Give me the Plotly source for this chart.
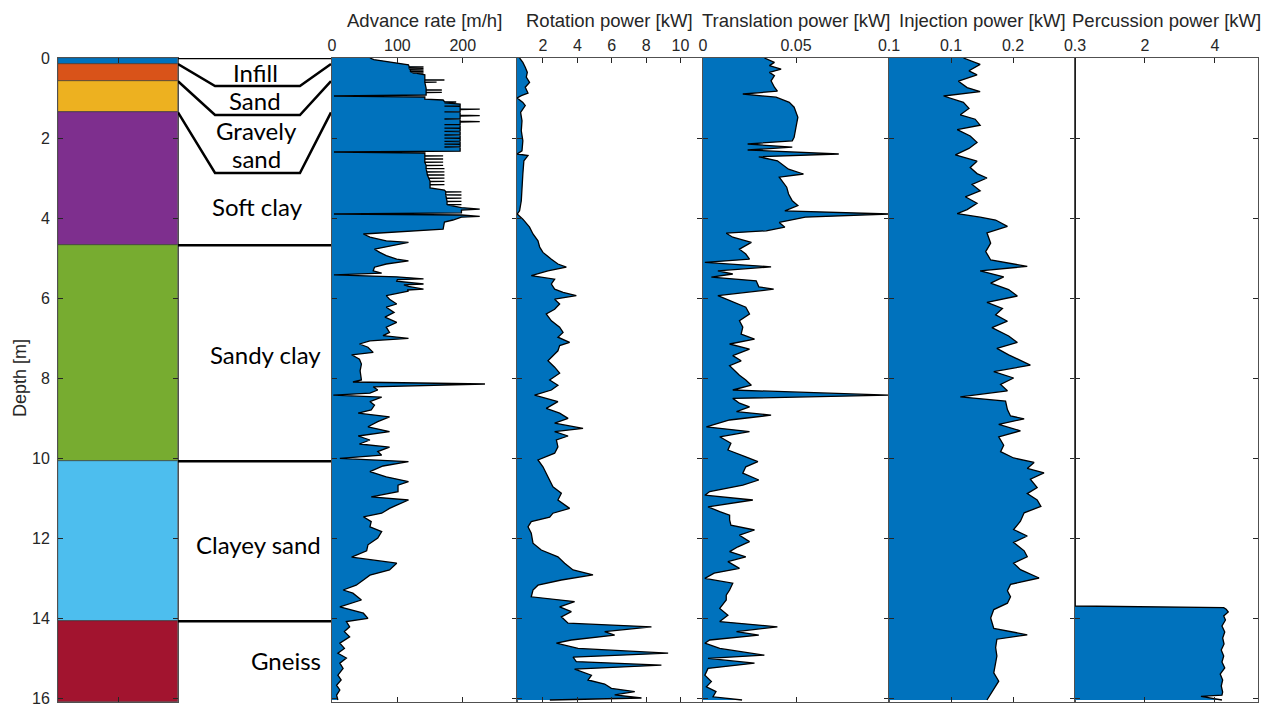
import plotly.graph_objects as go

# page is 1274x704; the HTML body has an 8px default margin, so the figure is drawn 8px smaller
PAGE_W, PAGE_H = 1274, 704
OFF = 8
W, H = PAGE_W - OFF, PAGE_H - OFF

# ---------------- data ----------------
litho_names = ["Infill", "Sand", "Gravely sand", "Soft clay", "Sandy clay", "Clayey sand", "Gneiss"]
litho_top = [0.0, 0.15, 0.58, 1.36, 4.68, 10.08, 14.08]
litho_bottom = [0.15, 0.58, 1.36, 4.68, 10.08, 14.08, 16.1]
litho_colors = ["#0072BD", "#D95319", "#EDB120", "#7E2F8E", "#77AC30", "#4DBEEE", "#A2142F"]

adv_depth = [0.00, 0.04, 0.17, 0.20, 0.215, 0.22, 0.225, 0.255, 0.26, 0.265, 0.295, 0.30, 0.305, 0.335, 0.34, 0.345,
             0.375, 0.38, 0.385, 0.42, 0.52, 0.545, 0.55, 0.555, 0.60, 0.605, 0.61, 0.76, 0.795, 0.80, 0.805, 0.855,
             0.86, 0.865, 0.925, 0.95, 0.975, 1.03, 1.05, 1.09, 1.10, 1.12, 1.15,
             1.20, 1.205, 1.21, 1.27, 1.28, 1.29, 1.34, 1.345, 1.35, 1.43, 1.44, 1.45, 1.52, 1.525, 1.53, 1.58, 1.59,
             1.60, 1.66, 1.665, 1.67, 1.75, 1.755, 1.76, 1.83, 1.835, 1.84, 1.92, 1.925, 1.93, 2.00, 2.005, 2.01,
             2.08, 2.085, 2.09, 2.15, 2.155, 2.16, 2.22, 2.225, 2.23, 2.30, 2.33, 2.35, 2.375,
             2.44, 2.445, 2.45, 2.52, 2.525, 2.53, 2.60, 2.605, 2.61, 2.68, 2.685, 2.69, 2.76, 2.765, 2.77, 2.84,
             2.845, 2.85, 2.92, 2.925, 2.93, 3.00, 3.005, 3.01, 3.08, 3.085, 3.09, 3.16, 3.165, 3.17, 3.25, 3.30,
             3.34, 3.345, 3.35, 3.42, 3.425, 3.43, 3.50, 3.505, 3.51, 3.58, 3.585, 3.59, 3.66, 3.665, 3.67, 3.74,
             3.78, 3.80, 3.87, 3.90, 3.925, 3.96, 3.98, 4.05, 4.10, 4.28, 4.33, 4.40, 4.48, 4.57, 4.61, 4.67, 4.78,
             4.86, 4.94, 5.03, 5.07, 5.15, 5.23, 5.32, 5.38, 5.42, 5.47, 5.52, 5.54, 5.58, 5.65, 5.67, 5.71, 5.78,
             5.80, 5.83, 5.88, 5.94, 6.03, 6.15, 6.23, 6.36, 6.48, 6.61, 6.73, 6.86, 6.94, 7.01, 7.07, 7.15, 7.23,
             7.36, 7.42, 7.53, 7.65, 7.82, 8.05, 8.10, 8.15, 8.22, 8.30, 8.38, 8.43, 8.48, 8.59, 8.68, 8.80, 8.88,
             8.97, 9.09, 9.22, 9.34, 9.45, 9.55, 9.65, 9.73, 9.84, 9.93, 10.01, 10.09, 10.20, 10.34, 10.47, 10.59,
             10.68, 10.84, 10.97, 11.05, 11.18, 11.26, 11.38, 11.47, 11.59, 11.72, 11.84, 12.00, 12.17, 12.32, 12.48,
             12.63, 12.80, 12.93, 13.05, 13.18, 13.30, 13.38, 13.55, 13.72, 13.88, 14.01, 14.09, 14.22, 14.34, 14.47,
             14.63, 14.76, 14.88, 15.00, 15.13, 15.26, 15.43, 15.55, 15.68, 15.80, 15.93, 16.05]
adv_rate = [58, 64, 117, 118, 118, 140, 118, 118, 140, 118, 120, 140, 120, 120, 140, 120,
            125, 140, 130, 142, 142, 142, 172, 142, 142, 160, 142, 144, 144, 168, 144, 144,
            168, 144, 144, 3, 142, 142, 170, 172, 190, 172, 196,
            196, 172, 196, 196, 226, 196, 196, 172, 196, 196, 226, 196, 196, 172, 196, 196, 226,
            196, 196, 172, 196, 196, 172, 196, 196, 172, 196, 196, 172, 196, 196, 172, 196,
            196, 172, 196, 196, 172, 196, 196, 172, 196, 196, 196, 3, 142,
            142, 170, 142, 142, 170, 142, 142, 170, 142, 144, 170, 144, 144, 172, 144, 145,
            172, 145, 146, 172, 146, 148, 172, 148, 150, 172, 150, 150, 172, 150, 150, 172,
            174, 198, 174, 174, 198, 174, 175, 198, 175, 176, 198, 176, 176, 198, 176, 198,
            226, 198, 198, 3, 198, 226, 198, 185, 172, 170, 110, 48, 58, 83, 117, 99, 65,
            73, 83, 99, 117, 83, 65, 63, 76, 3, 99, 140, 100, 99, 140, 110, 117, 140,
            115, 117, 99, 83, 88, 99, 83, 95, 81, 99, 83, 88, 78, 117, 58, 42, 55,
            63, 30, 42, 45, 43, 45, 32, 234, 63, 70, 58, 2, 76, 58, 65, 60, 40,
            88, 70, 55, 88, 40, 58, 42, 88, 70, 76, 12, 117, 78, 58, 83, 117,
            101, 101, 60, 117, 99, 88, 76, 48, 60, 58, 76, 70, 55, 53, 30,
            99, 88, 58, 48, 37, 17, 32, 45, 12, 48, 55, 22, 27, 19, 27,
            12, 19, 9, 22, 12, 17, 9, 14, 7, 12, 7, 9]

rot_depth = [0.00, 0.11, 0.23, 0.36, 0.48, 0.61, 0.73, 0.88, 0.94, 1.00, 1.11, 1.19, 1.36, 1.57, 1.82, 2.07, 2.32,
             2.40, 2.44, 2.57, 2.90, 3.23, 3.57, 3.82, 3.90, 4.03, 4.23, 4.40, 4.57, 4.73, 4.86, 5.03, 5.15, 5.23,
             5.32, 5.44, 5.53, 5.65, 5.78, 5.86, 5.94, 6.03, 6.15, 6.28, 6.40, 6.57, 6.73, 6.86, 6.98, 7.11, 7.19,
             7.32, 7.44, 7.57, 7.73, 7.88, 8.05, 8.18, 8.30, 8.43, 8.59, 8.76, 8.88, 9.01, 9.13, 9.26, 9.34, 9.45,
             9.55, 9.72, 9.88, 10.05, 10.22, 10.38, 10.55, 10.72, 10.88, 11.05, 11.26, 11.38, 11.48, 11.59, 11.72,
             11.88, 12.13, 12.30, 12.47, 12.63, 12.80, 12.92, 13.05, 13.18, 13.30, 13.47, 13.59, 13.72, 13.84, 13.97,
             14.13, 14.22, 14.34, 14.43, 14.55, 14.63, 14.76, 14.88, 14.98, 15.09, 15.18, 15.28, 15.43, 15.55, 15.65,
             15.76, 15.84, 15.92, 16.00, 16.05]
rot_power = [0.64, 0.83, 0.97, 1.09, 1.03, 1.22, 0.97, 1.13, 0.74, 0.50, 0.83, 0.97, 0.70, 0.78, 0.74, 0.83, 0.78,
             0.50, 1.13, 0.89, 0.83, 0.78, 0.74, 0.64, 0.50, 0.83, 1.22, 1.42, 1.71, 1.81, 2.00, 2.49, 2.87, 3.36,
             2.29, 1.32, 2.68, 2.49, 2.68, 3.17, 3.94, 2.68, 2.97, 2.68, 2.19, 2.49, 2.97, 3.17, 2.87, 3.55, 2.97,
             2.87, 2.58, 2.29, 2.68, 2.97, 2.39, 2.87, 2.49, 1.51, 2.87, 2.19, 2.97, 3.46, 2.68, 4.33, 2.68, 3.46,
             2.78, 2.87, 2.68, 1.71, 2.00, 2.19, 2.39, 2.58, 3.07, 2.87, 3.55, 2.58, 2.39, 1.32, 1.13,
             1.32, 1.42, 1.90, 2.87, 3.26, 3.75, 4.91, 3.07, 1.71, 1.42, 1.32, 3.84, 2.97, 3.65, 3.07,
             3.46, 8.31, 5.59, 6.17, 3.65, 2.78, 4.04, 9.28, 3.75, 3.94, 8.89, 3.84, 4.82, 4.62, 5.59,
             5.98, 7.34, 6.17, 7.73, 2.40]

tra_depth = [0.00, 0.11, 0.19, 0.28, 0.36, 0.44, 0.57, 0.73, 0.83, 0.90, 0.98, 1.11, 1.23, 1.48, 1.73, 1.98, 2.07,
             2.15, 2.23, 2.30, 2.40, 2.47, 2.57, 2.78, 2.90, 2.98, 3.23, 3.40, 3.57, 3.69, 3.82, 3.90, 3.98, 4.11,
             4.23, 4.32, 4.38, 4.48, 4.61, 4.78, 4.90, 5.03, 5.11, 5.22, 5.32, 5.40, 5.48, 5.57, 5.72, 5.78, 5.94,
             6.07, 6.23, 6.40, 6.57, 6.73, 6.90, 7.03, 7.15, 7.28, 7.44, 7.57, 7.69, 7.93, 8.05, 8.18, 8.30, 8.43,
             8.51, 8.63, 8.72, 8.84, 8.93, 9.05, 9.22, 9.34, 9.47, 9.63, 9.80, 9.97, 10.09, 10.22, 10.38, 10.55,
             10.68, 10.84, 10.93, 11.05, 11.22, 11.34, 11.43, 11.55, 11.68, 11.80, 11.93, 12.09, 12.22, 12.34, 12.47,
             12.59, 12.76, 12.88, 13.01, 13.13, 13.30, 13.43, 13.55, 13.76, 13.93, 14.09, 14.22, 14.34, 14.43, 14.55,
             14.63, 14.76, 14.93, 15.01, 15.13, 15.26, 15.43, 15.59, 15.72, 15.84, 15.97, 16.05]
tra_power = [0.033, 0.0384, 0.0357, 0.042, 0.0357, 0.0384, 0.0366, 0.0384, 0.040, 0.0214, 0.0393, 0.0464, 0.049,
             0.051, 0.050, 0.049, 0.048, 0.024, 0.048, 0.024, 0.073, 0.030, 0.040, 0.046, 0.054, 0.041, 0.045,
             0.046, 0.048, 0.051, 0.044, 0.100, 0.055, 0.041, 0.044, 0.034, 0.0125, 0.016, 0.026, 0.0196, 0.023,
             0.025, 0.001, 0.0366, 0.008, 0.016, 0.0045, 0.0286, 0.030, 0.038, 0.008, 0.0143, 0.023, 0.025, 0.0196,
             0.0214, 0.0205, 0.0277, 0.0143, 0.025, 0.016, 0.0205, 0.0143, 0.0196, 0.023, 0.026, 0.016, 0.100,
             0.016, 0.0196, 0.025, 0.018, 0.0366, 0.0143, 0.0018, 0.025, 0.009, 0.015, 0.0134, 0.023, 0.0295, 0.023,
             0.0214, 0.030, 0.0214, 0.0036, 0.001, 0.0268, 0.0027, 0.009, 0.0143, 0.0143, 0.015, 0.0277, 0.0196,
             0.025, 0.0188, 0.0143, 0.023, 0.0134, 0.0196, 0.006, 0.001, 0.016, 0.0143, 0.0125, 0.0125, 0.009,
             0.0134, 0.009, 0.040, 0.018, 0.030, 0.0036, 0.001, 0.009, 0.033, 0.0027, 0.0277, 0.0027, 0.001,
             0.0045, 0.0018, 0.007, 0.0054, 0.021]

inj_depth = [0.00, 0.16, 0.32, 0.42, 0.58, 0.74, 0.84, 0.95, 1.11, 1.26, 1.42, 1.53, 1.68, 1.79, 1.95, 2.11, 2.26,
             2.42, 2.58, 2.74, 2.89, 3.00, 3.16, 3.32, 3.47, 3.63, 3.79, 3.89, 3.98, 4.05, 4.21, 4.37, 4.63, 4.84,
             5.05, 5.21, 5.32, 5.47, 5.63, 5.79, 5.95, 6.11, 6.26, 6.42, 6.58, 6.74, 6.95, 7.11, 7.26, 7.42, 7.68,
             7.84, 8.00, 8.16, 8.32, 8.47, 8.58, 8.79, 8.95, 9.02, 9.16, 9.32, 9.47, 9.68, 9.84, 10.00, 10.11, 10.26,
             10.37, 10.53, 10.74, 10.89, 11.05, 11.21, 11.37, 11.58, 11.79, 11.95, 12.11, 12.32, 12.47, 12.63, 12.79,
             13.00, 13.16, 13.32, 13.47, 13.63, 13.79, 14.00, 14.26, 14.42, 14.53, 14.74, 14.95, 15.16, 15.37, 15.58,
             15.79, 16.05]
inj_power = [0.120, 0.147, 0.129, 0.142, 0.112, 0.126, 0.147, 0.088, 0.120, 0.129, 0.115, 0.139, 0.147, 0.110,
             0.131, 0.142, 0.129, 0.107, 0.142, 0.131, 0.142, 0.158, 0.134, 0.147, 0.123, 0.142, 0.126, 0.110,
             0.147, 0.172, 0.191, 0.158, 0.164, 0.156, 0.164, 0.223, 0.147, 0.185, 0.164, 0.193, 0.207, 0.158,
             0.183, 0.172, 0.191, 0.166, 0.193, 0.207, 0.174, 0.193, 0.228, 0.169, 0.201, 0.180, 0.191, 0.115,
             0.188, 0.191, 0.196, 0.218, 0.177, 0.212, 0.177, 0.185, 0.180, 0.201, 0.234, 0.223, 0.250, 0.228,
             0.239, 0.223, 0.239, 0.245, 0.218, 0.212, 0.201, 0.223, 0.201, 0.218, 0.223, 0.201, 0.212, 0.242,
             0.196, 0.191, 0.196, 0.191, 0.169, 0.164, 0.169, 0.223, 0.174, 0.172, 0.174, 0.172, 0.169, 0.177,
             0.169, 0.158]

per_depth = [0.00, 13.70, 13.74, 13.78, 13.85, 13.95, 14.05, 14.20, 14.35, 14.50, 14.65, 14.80, 14.95, 15.10, 15.25,
             15.40, 15.55, 15.70, 15.85, 15.93, 15.96, 16.05]
per_power = [0.0, 0.0, 4.25, 4.32, 4.38, 4.25, 4.30, 4.20, 4.28, 4.22, 4.26, 4.18, 4.25, 4.20, 4.28, 4.15, 4.22,
             4.18, 4.22, 4.20, 3.60, 4.20]

titles = ["Advance rate [m/h]", "Rotation power [kW]", "Translation power [kW]",
          "Injection power [kW]", "Percussion power [kW]"]

# ---------------- layout geometry (page pixels) ----------------
DEPTH_RANGE = [16.1, 0]
Y_TOP, Y_BOT = 58, 702
LITHO = (58, 178)
LABEL = (178, 331)
PANELS = [(332, 517), (517, 702), (703, 889), (889, 1075), (1075, 1258)]
RANGES = [[0, 283], [0.49, 11.25], [0, 0.1], [0, 0.3], [0, 5.23]]
TICKS = [[0, 100, 200], [2, 4, 6, 8, 10], [0, 0.05, 0.1], [0.1, 0.2, 0.3], [2, 4]]
TICKTEXT = [["0", "100", "200"], ["2", "4", "6", "8", "10"], ["0", "0.05", "0.1"],
            ["0.1", "0.2", "0.3"], ["2", "4"]]

def px(x):
    return (x - OFF) / W

def py(y):
    return 1 - (y - OFF) / H

def dom(p):
    return [px(p[0]), px(p[1])]

ydom = [py(Y_BOT), py(Y_TOP)]
AX = "#262626"
FONT = "Liberation Sans, Arial, sans-serif"

fig = go.Figure()

# lithology column
fig.add_trace(go.Bar(
    x=[0.5] * len(litho_top),
    y=[b - t for t, b in zip(litho_top, litho_bottom)],
    base=litho_top, width=1,
    marker=dict(color=litho_colors, line=dict(color="#333333", width=0.6)),
    xaxis="x", yaxis="y", showlegend=False, hoverinfo="skip"))

# label column connectors
conn_x = [0, 0.242, 0.797, 1]
box_bottom = [0.70, 1.425, 2.875]
for top_d, bb in zip(litho_bottom[:3], box_bottom):
    fig.add_trace(go.Scatter(x=conn_x, y=[top_d, bb, bb, top_d], mode="lines",
                             line=dict(color="black", width=2.5),
                             xaxis="x2", yaxis="y2", showlegend=False, hoverinfo="skip"))
for d in [0.0] + litho_bottom[3:6]:
    fig.add_trace(go.Scatter(x=[0, 1], y=[d, d], mode="lines",
                             line=dict(color="black", width=2.5),
                             xaxis="x2", yaxis="y2", showlegend=False, hoverinfo="skip"))

series = [(adv_rate, adv_depth), (rot_power, rot_depth), (tra_power, tra_depth),
          (inj_power, inj_depth), (per_power, per_depth)]
for i, (vals, deps) in enumerate(series):
    n = i + 3
    fig.add_trace(go.Scatter(x=vals, y=deps, mode="lines", fill="tozerox",
                             fillcolor="#0072BD", line=dict(color="black", width=1.3),
                             xaxis=f"x{n}", yaxis=f"y{n}", showlegend=False, hoverinfo="skip"))

layout = dict(width=W, height=H, margin=dict(l=0, r=0, t=0, b=0, autoexpand=False),
              paper_bgcolor="white", plot_bgcolor="white",
              font=dict(family=FONT, color=AX), bargap=0, showlegend=False)

common_x = dict(side="top", ticks="inside", ticklen=5, tickcolor=AX, showline=True, linecolor="#505050",
                linewidth=1, mirror="ticks", showgrid=False, zeroline=False, fixedrange=True, automargin=False,
                ticklabeloverflow="allow", tickfont=dict(size=16, color=AX, family=FONT))
common_y = dict(domain=ydom, range=DEPTH_RANGE, tickvals=list(range(0, 17, 2)), ticks="inside", ticklen=5,
                tickcolor=AX, showline=True, linecolor="#505050", linewidth=1, mirror="ticks",
                showgrid=False, zeroline=False, fixedrange=True, automargin=False, ticklabeloverflow="allow")

layout["xaxis"] = dict(common_x, domain=dom(LITHO), range=[0, 1], tickvals=[0.5], showticklabels=False, anchor="y")
layout["yaxis"] = dict(common_y, anchor="x", showticklabels=True, ticklabelstandoff=4,
                       tickfont=dict(size=16, color=AX, family=FONT))
layout["xaxis2"] = dict(domain=dom(LABEL), range=[0, 1], visible=False, anchor="y2", fixedrange=True,
                        automargin=False)
layout["yaxis2"] = dict(domain=ydom, range=DEPTH_RANGE, visible=False, anchor="x2", fixedrange=True,
                        automargin=False)
for i, p in enumerate(PANELS):
    n = i + 3
    layout[f"xaxis{n}"] = dict(common_x, domain=dom(p), range=RANGES[i], tickvals=TICKS[i],
                               ticktext=TICKTEXT[i], anchor=f"y{n}")
    layout[f"yaxis{n}"] = dict(common_y, anchor=f"x{n}", showticklabels=False)

annotations = []
for i, p in enumerate(PANELS):
    annotations.append(dict(text=titles[i], x=px((p[0] + p[1]) / 2), y=py(20), xref="paper", yref="paper",
                            xanchor="center", yanchor="middle", showarrow=False,
                            font=dict(size=18.5, color=AX, family=FONT)))
annotations.append(dict(text="Depth [m]", x=px(20), y=py(378), xref="paper", yref="paper",
                        textangle=-90, xanchor="center", yanchor="middle", showarrow=False,
                        font=dict(size=18, color=AX, family=FONT)))

LFONT = dict(family="Lato, Open Sans, sans-serif", size=24, color="black")
label_pos = [("Infill", 0.507, 0.35, "center"), ("Sand", 0.503, 1.05, "center"),
             ("Gravely", 0.51, 1.80, "center"), ("sand", 0.51, 2.50, "center"),
             ("Soft clay", 0.52, 3.72, "center"), ("Sandy clay", 0.948, 7.42, "right"),
             ("Clayey sand", 0.948, 12.15, "right"), ("Gneiss", 0.948, 15.05, "right")]
for txt, lx, ly, anc in label_pos:
    annotations.append(dict(text=txt, x=lx, y=ly, xref="x2", yref="y2", xanchor=anc, yanchor="middle",
                            showarrow=False, font=LFONT))
layout["annotations"] = annotations

fig.update_layout(**layout)
fig.write_html("out.html")
